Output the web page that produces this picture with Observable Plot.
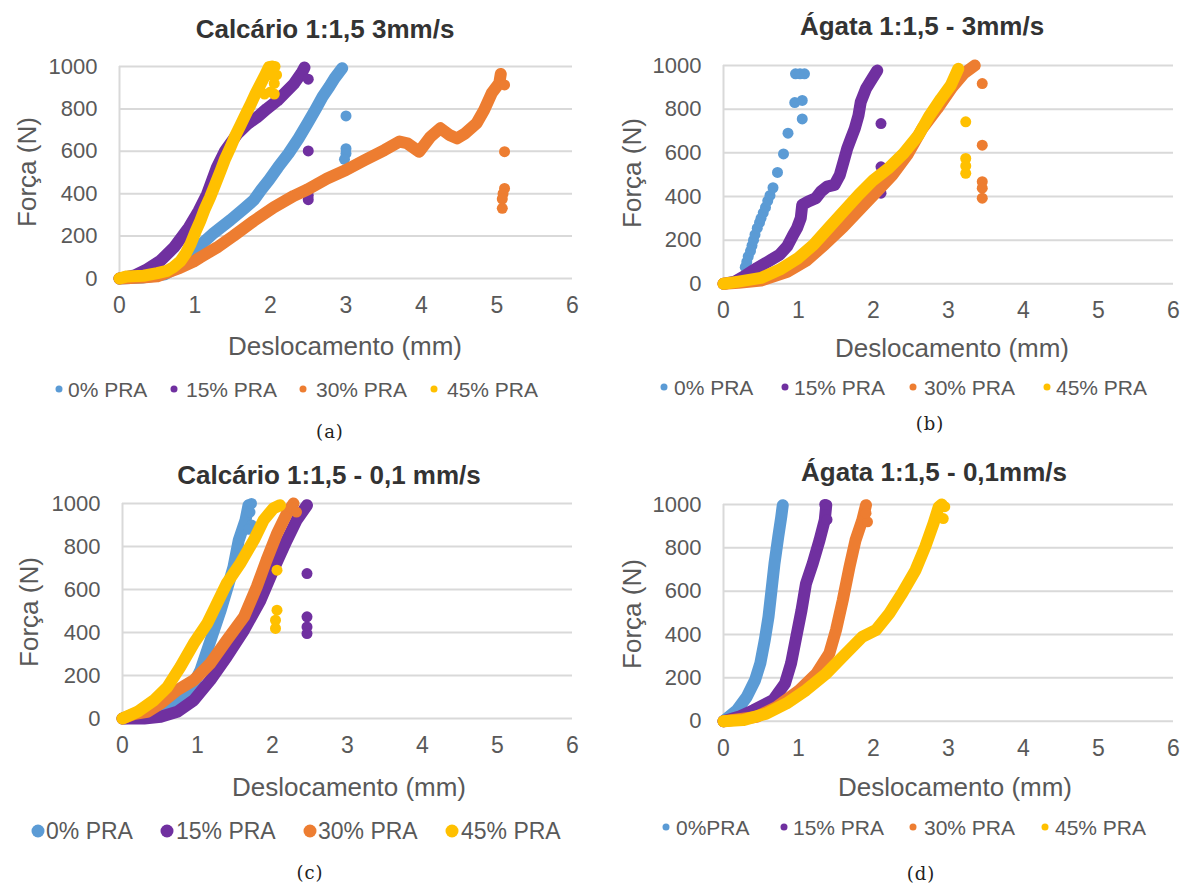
<!DOCTYPE html>
<html><head><meta charset="utf-8">
<script src="https://cdn.jsdelivr.net/npm/d3@7"></script>
<script src="https://cdn.jsdelivr.net/npm/@observablehq/plot@0.6"></script>
<style>
body{margin:0;background:#fff;}
#root{position:relative;width:1189px;height:886px;overflow:hidden;background:#fff;font-family:"Liberation Sans",Arial,sans-serif;}
.t{position:absolute;white-space:nowrap;transform:translate(-50%,-50%);line-height:1;}
.title{font-weight:bold;font-size:26px;color:#333;}
.axt{font-size:26px;color:#595959;}
.cap{font-family:"DejaVu Serif","Liberation Serif",serif;font-size:18px;color:#222;letter-spacing:1px;}
.lg{position:absolute;white-space:nowrap;transform:translateY(-50%);line-height:1;color:#595959;}
.mk{position:absolute;border-radius:50%;transform:translate(-50%,-50%);}
</style></head><body><div id="root"></div><script>
// ---- shared labels / ticks ----
const seriesNames = ["0% PRA", "15% PRA", "30% PRA", "45% PRA"];
const seriesNamesD = ["0%PRA", "15% PRA", "30% PRA", "45% PRA"];
const colors = ["#5B9BD5", "#7030A0", "#ED7D31", "#FFC000"];
const xTicks = [0, 1, 2, 3, 4, 5, 6];
const yTicks = [0, 200, 400, 600, 800, 1000];
const titles = ["Calcário 1:1,5 3mm/s", "Ágata 1:1,5 - 3mm/s", "Calcário 1:1,5 - 0,1 mm/s", "Ágata 1:1,5 - 0,1mm/s"];
const captions = ["(a)", "(b)", "(c)", "(d)"];
const xLabel = "Deslocamento (mm)";
const yLabel = "Força (N)";

// ---- panel (a): Calcário 3mm/s  [deslocamento mm, força N] ----
const a0 = [[0,0],[0.3,5],[0.6,20],[0.8,60],[1.0,130],[1.07,157],[1.25,215],[1.47,276],[1.65,330],[1.78,370],[1.88,420],[1.98,465],[2.1,525],[2.24,590],[2.37,660],[2.49,732],[2.6,800],[2.69,858],[2.78,905],[2.85,945],[2.95,992]];
const a0pts = [[3.0,767],[3.0,612],[3.0,590],[2.98,562]];
const a1 = [[0,0],[0.2,15],[0.35,40],[0.54,83],[0.72,146],[0.92,241],[1.05,320],[1.16,398],[1.29,524],[1.4,603],[1.56,682],[1.7,730],[1.82,760],[1.95,800],[2.09,839],[2.2,878],[2.31,918],[2.42,975],[2.45,995]];
const a1pts = [[2.5,940],[2.5,602],[2.5,392],[2.5,372]];
const a2 = [[0,0],[0.3,5],[0.5,10],[0.8,50],[0.98,80],[1.07,100],[1.29,146],[1.51,201],[1.78,272],[2.04,335],[2.31,390],[2.49,420],[2.75,472],[3.0,512],[3.25,559],[3.51,606],[3.71,646],[3.81,638],[3.97,598],[4.12,669],[4.25,709],[4.37,677],[4.47,661],[4.58,685],[4.73,732],[4.83,795],[4.93,874],[5.03,921],[5.05,965]];
const a2pts = [[5.1,913],[5.1,598],[5.1,425],[5.08,400],[5.07,375],[5.07,331]];
const a3 = [[0,0],[0.1,10],[0.32,13],[0.5,25],[0.63,36],[0.72,55],[0.81,83],[0.88,120],[0.94,162],[1.0,215],[1.07,272],[1.13,328],[1.2,383],[1.27,446],[1.34,509],[1.4,565],[1.47,619],[1.53,670],[1.6,721],[1.67,773],[1.74,824],[1.8,870],[1.87,918],[1.93,960],[1.98,997],[2.02,1000]];
const a3pts = [[1.85,900],[1.92,870],[2.0,880],[2.05,920],[2.08,960],[2.06,1000],[2.0,960],[2.05,870]];

// ---- panel (b): Ágata 3mm/s ----
const b0 = [];
const b0pts = [[0,0],[0.1,5],[0.2,20],[0.29,76],[0.31,100],[0.33,125],[0.36,150],[0.38,175],[0.4,200],[0.42,225],[0.45,255],[0.48,280],[0.5,300],[0.53,325],[0.56,350],[0.59,380],[0.62,405],[0.66,440],[0.72,510],[0.8,595],[0.86,690],[0.95,830],[1.05,840],[1.05,755],[0.96,962],[1.02,962],[1.08,962]];
const b1 = [[0,0],[0.15,10],[0.3,40],[0.45,73],[0.6,103],[0.75,134],[0.85,172],[0.93,225],[0.98,255],[1.03,301],[1.05,362],[1.13,377],[1.23,392],[1.3,423],[1.38,445],[1.48,453],[1.55,498],[1.6,559],[1.65,620],[1.7,666],[1.75,711],[1.8,772],[1.83,833],[1.9,894],[1.98,939],[2.05,977]];
const b1pts = [[2.1,734],[2.1,536],[2.1,415]];
const b2 = [[0,0],[0.2,5],[0.5,15],[0.85,55],[1.1,105],[1.35,180],[1.6,262],[1.85,352],[2.05,425],[2.25,498],[2.45,590],[2.65,711],[2.85,802],[3.05,901],[3.2,962],[3.35,1000]];
const b2pts = [[3.45,917],[3.45,635],[3.45,468],[3.45,438],[3.45,392]];
const b3 = [[0,0],[0.2,10],[0.5,27],[0.75,65],[1.0,119],[1.2,179],[1.4,255],[1.6,331],[1.8,407],[2.0,476],[2.2,529],[2.4,597],[2.6,681],[2.75,772],[2.9,848],[3.03,909],[3.13,985]];
const b3pts = [[3.23,742],[3.23,574],[3.23,540],[3.23,506]];

// ---- panel (c): Calcário 0,1 mm/s ----
const c0 = [[0,0],[0.3,10],[0.6,40],[0.8,90],[0.91,132],[1.04,225],[1.13,318],[1.22,411],[1.31,504],[1.39,597],[1.48,705],[1.55,829],[1.64,922],[1.68,992]];
const c0pts = [[1.7,960],[1.72,900],[1.68,880],[1.72,1000]];
const c1 = [[0,0],[0.29,0],[0.51,8],[0.73,31],[0.95,85],[1.17,178],[1.39,287],[1.62,411],[1.84,550],[2.01,690],[2.19,829],[2.32,922],[2.46,992]];
const c1pts = [[2.46,674],[2.46,473],[2.46,426],[2.46,395]];
const c2 = [[0,0],[0.15,20],[0.33,31],[0.51,70],[0.73,132],[0.95,178],[1.17,256],[1.39,364],[1.62,473],[1.79,612],[1.92,736],[2.06,860],[2.19,953],[2.28,1000]];
const c2pts = [[2.25,980],[2.32,960]];
const c3 = [[0,0],[0.2,31],[0.42,85],[0.6,147],[0.77,240],[0.95,349],[1.13,442],[1.26,535],[1.39,628],[1.57,721],[1.75,829],[1.88,922],[2.01,977],[2.1,992]];
const c3pts = [[2.06,690],[2.06,504],[2.04,457],[2.04,419]];

// ---- panel (d): Ágata 0,1 mm/s ----
const d0 = [[0,0],[0.18,51],[0.31,112],[0.42,189],[0.49,266],[0.55,374],[0.6,482],[0.64,605],[0.68,728],[0.73,851],[0.77,943],[0.79,997]];
const d0pts = [];
const d1 = [[0,0],[0.2,20],[0.4,51],[0.66,97],[0.82,174],[0.9,266],[0.97,389],[1.04,512],[1.1,635],[1.19,728],[1.28,835],[1.35,928],[1.37,997]];
const d1pts = [[1.38,930],[1.35,1000]];
const d2 = [[0,0],[0.44,20],[0.71,66],[1.01,143],[1.24,220],[1.41,312],[1.5,420],[1.59,558],[1.68,712],[1.76,835],[1.85,928],[1.9,997]];
const d2pts = [[1.92,920],[1.9,960]];
const d3 = [[0,0],[0.26,5],[0.57,35],[0.84,82],[1.1,143],[1.37,220],[1.63,312],[1.85,389],[2.03,420],[2.21,497],[2.38,589],[2.56,697],[2.69,805],[2.8,912],[2.87,989],[2.91,1000]];
const d3pts = [[2.93,935],[2.95,990]];

// ---- layout (pixel positions of each panel) ----
const panels = [
  {curves:[a0,a1,a2,a3], pts:[a0pts,a1pts,a2pts,a3pts], names:seriesNames,
   x0:119, x6:572, yTop:65.7, yBot:277.7, title:[325,29], xt:[345,346], yt:[27,172], cap:[330,432],
   lgY:389, lg:[[59,68],[174,186],[303,316],[434,447]], lgFont:21, lgR:3.5},
  {curves:[b0,b1,b2,b3], pts:[b0pts,b1pts,b2pts,b3pts], names:seriesNames,
   x0:723, x6:1173, yTop:65, yBot:283.3, title:[922,26], xt:[952,348], yt:[632,173], cap:[930,424],
   lgY:387, lg:[[664,674],[785,794],[913,924],[1047,1056]], lgFont:21, lgR:3.5},
  {curves:[c0,c1,c2,c3], pts:[c0pts,c1pts,c2pts,c3pts], names:seriesNames,
   x0:122, x6:572, yTop:503.3, yBot:718.3, title:[329,475], xt:[349,787], yt:[29,612], cap:[310,873],
   lgY:831, lg:[[38,46],[167,176],[310,318],[452,461]], lgFont:23, lgR:6.5},
  {curves:[d0,d1,d2,d3], pts:[d0pts,d1pts,d2pts,d3pts], names:seriesNamesD,
   x0:723, x6:1173, yTop:504.3, yBot:721, title:[934,472], xt:[955,787], yt:[632,614], cap:[921,874],
   lgY:827, lg:[[666,676],[784,793],[913,924],[1045,1055]], lgFont:21, lgR:3.5}
];

const root = document.getElementById("root");
function addText(cls, txt, x, y, extra) {
  const el = document.createElement("div");
  el.className = "t " + cls;
  el.textContent = txt;
  el.style.left = x + "px";
  el.style.top = y + "px";
  if (extra) el.style.transform = extra;
  root.appendChild(el);
}

const mL = 70, mR = 15, mT = 15, mB = 45;
panels.forEach((p, k) => {
  const W = p.x6 - p.x0 + mL + mR;
  const H = p.yBot - p.yTop + mT + mB;
  const marks = [
    Plot.ruleY(yTicks, {stroke: "#d9d9d9", strokeWidth: 2}),
    Plot.ruleX([0], {stroke: "#d9d9d9", strokeWidth: 2}),
    Plot.axisX(xTicks, {tickSize: 0, tickPadding: 18, fontSize: 23, label: null, tickFormat: d => String(d)}),
    Plot.axisY(yTicks, {tickSize: 0, tickPadding: 22, fontSize: 22, label: null, tickFormat: d => String(d)})
  ];
  p.curves.forEach((c, i) => {
    if (c.length) marks.push(Plot.line(c, {x: d => d[0], y: d => d[1], stroke: colors[i], strokeWidth: 12, strokeLinecap: "round", strokeLinejoin: "round"}));
    if (p.pts[i].length) marks.push(Plot.dot(p.pts[i], {x: d => d[0], y: d => d[1], r: 5.5, fill: colors[i]}));
  });
  const svg = Plot.plot({
    width: W, height: H,
    marginLeft: mL, marginRight: mR, marginTop: mT, marginBottom: mB,
    x: {domain: [0, 6]}, y: {domain: [0, 1000]},
    style: {fontFamily: "'Liberation Sans', Arial, sans-serif", fontSize: "22px", color: "#595959", background: "transparent", overflow: "visible"},
    marks
  });
  svg.style.position = "absolute";
  svg.style.left = (p.x0 - mL) + "px";
  svg.style.top = (p.yTop - mT) + "px";
  root.appendChild(svg);

  addText("title", titles[k], p.title[0], p.title[1]);
  addText("axt", xLabel, p.xt[0], p.xt[1]);
  addText("axt", yLabel, p.yt[0], p.yt[1], "translate(-50%,-50%) rotate(-90deg)");
  addText("cap", captions[k], p.cap[0], p.cap[1]);

  p.lg.forEach(([mx, tx], i) => {
    const m = document.createElement("div");
    m.className = "mk";
    m.style.left = mx + "px"; m.style.top = p.lgY + "px";
    m.style.width = m.style.height = (2 * p.lgR) + "px";
    m.style.background = colors[i];
    root.appendChild(m);
    const t = document.createElement("div");
    t.className = "lg";
    t.textContent = p.names[i];
    t.style.left = tx + "px"; t.style.top = p.lgY + "px";
    t.style.fontSize = p.lgFont + "px";
    root.appendChild(t);
  });
});
</script></body></html>
